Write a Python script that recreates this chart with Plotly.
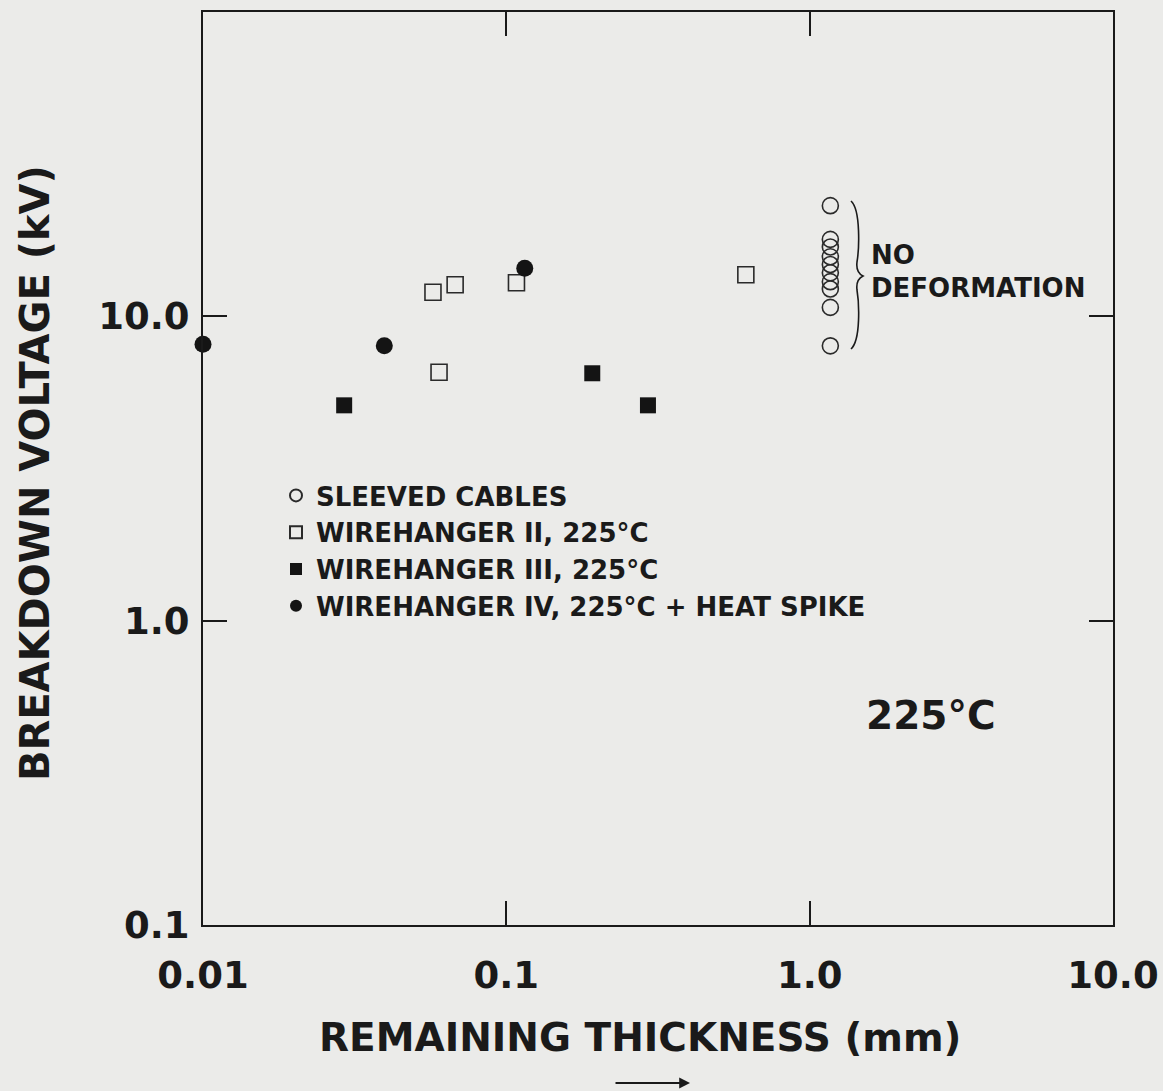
import plotly.graph_objects as go

# ---- data ----
sleeved_x = [1.17] * 10
sleeved_y = [23.1, 17.9, 16.9, 15.7, 14.8, 13.9, 13.0, 12.3, 10.7, 8.0]

wh2_x = [0.0573, 0.0678, 0.108, 0.616, 0.060]
wh2_y = [12.0, 12.7, 12.9, 13.7, 6.55]

wh3_x = [0.0292, 0.192, 0.293]
wh3_y = [5.1, 6.5, 5.1]

wh4_x = [0.0100, 0.0396, 0.115]
wh4_y = [8.1, 8.0, 14.4]

x_tickvals = [0.01, 0.1, 1.0, 10.0]
x_ticktext = ["0.01", "0.1", "1.0", "10.0"]
y_tickvals = [0.1, 1.0, 10.0]
y_ticktext = ["0.1", "1.0", "10.0"]

series_names = [
    "SLEEVED CABLES",
    "WIREHANGER II, 225°C",
    "WIREHANGER III, 225°C",
    "WIREHANGER IV, 225°C + HEAT SPIKE",
]

FONT = "DejaVu Sans"
INK = "#1a1a1a"
BG = "#ebebe9"

W, H = 1163, 1091
ML, MR, MT, MB = 203, 50, 12, 166
PW, PH = W - ML - MR, H - MT - MB


def pp(x, y):
    """pixel -> paper coordinates (for decorations only)"""
    return (x - ML) / PW, (H - MB - y) / PH


fig = go.Figure()

fig.add_trace(go.Scatter(
    x=sleeved_x, y=sleeved_y, mode="markers", name=series_names[0],
    marker=dict(symbol="circle-open", size=16, color="#2a2a2a", line=dict(width=1.6)),
    cliponaxis=False))
fig.add_trace(go.Scatter(
    x=wh2_x, y=wh2_y, mode="markers", name=series_names[1],
    marker=dict(symbol="square-open", size=16, color="#2a2a2a", line=dict(width=1.6)),
    cliponaxis=False))
fig.add_trace(go.Scatter(
    x=wh3_x, y=wh3_y, mode="markers", name=series_names[2],
    marker=dict(symbol="square", size=16, color="#141414"),
    cliponaxis=False))
fig.add_trace(go.Scatter(
    x=wh4_x, y=wh4_y, mode="markers", name=series_names[3],
    marker=dict(symbol="circle", size=17, color="#141414"),
    cliponaxis=False))

axis_common = dict(
    type="log", showgrid=False, zeroline=False, showline=True, linewidth=2.2,
    linecolor=INK, mirror="ticks", ticks="inside", ticklen=24, tickwidth=1.5,
    tickcolor=INK, tickfont=dict(family=FONT, size=37, color=INK, weight="bold"),
    automargin=False,
)

fig.update_xaxes(range=[-2, 1], tickvals=x_tickvals, ticktext=x_ticktext,
                 ticklabelstandoff=16, **axis_common)
fig.update_yaxes(range=[-1, 2], tickvals=y_tickvals, ticktext=y_ticktext,
                 ticklabelstandoff=4, **axis_common)

annotations = []
# axis titles
tx, ty = pp(640, 1037)
annotations.append(dict(x=tx, y=ty, xref="paper", yref="paper", text="REMAINING THICKNESS (mm)",
                        showarrow=False, font=dict(family=FONT, size=39, color=INK, weight="bold"),
                        xanchor="center", yanchor="middle"))
tx, ty = pp(35, 473)
annotations.append(dict(x=tx, y=ty, xref="paper", yref="paper", text="BREAKDOWN VOLTAGE (kV)",
                        showarrow=False, textangle=-90,
                        font=dict(family=FONT, size=40, color=INK, weight="bold"),
                        xanchor="center", yanchor="middle"))
# arrow under x title
hx, hy = pp(690, 1083)
annotations.append(dict(x=hx, y=hy, xref="paper", yref="paper", text="", showarrow=True,
                        ax=-76, ay=0, arrowhead=2, arrowsize=1.2, arrowwidth=1.8, arrowcolor=INK))
# NO DEFORMATION
tx, ty = pp(869, 255)
annotations.append(dict(x=tx, y=ty, xref="paper", yref="paper", text="NO", showarrow=False,
                        xanchor="left", yanchor="middle",
                        font=dict(family=FONT, size=26, color=INK, weight="bold")))
tx, ty = pp(869, 288)
annotations.append(dict(x=tx, y=ty, xref="paper", yref="paper", text="DEFORMATION", showarrow=False,
                        xanchor="left", yanchor="middle",
                        font=dict(family=FONT, size=26, color=INK, weight="bold")))
# 225°C
tx, ty = pp(931, 715)
annotations.append(dict(x=tx, y=ty, xref="paper", yref="paper", text="225°C", showarrow=False,
                        xanchor="center", yanchor="middle",
                        font=dict(family=FONT, size=39, color=INK, weight="bold")))

# brace
pts = [(851, 201), (861, 210), (859, 250), (857, 262), (856, 270), (859, 274), (863, 276),
       (859, 278), (856, 282), (857, 290), (859, 302), (861, 340), (851, 349)]
pp_pts = [pp(*p) for p in pts]
path = "M {:.5f},{:.5f}".format(*pp_pts[0])
for i in range(1, len(pp_pts), 3):
    a, b, c = pp_pts[i], pp_pts[i + 1], pp_pts[i + 2]
    path += " C {:.5f},{:.5f} {:.5f},{:.5f} {:.5f},{:.5f}".format(*a, *b, *c)

lx, ly = pp(276, 472)

fig.update_layout(
    width=W, height=H,
    margin=dict(l=ML, r=MR, t=MT, b=MB, autoexpand=False),
    paper_bgcolor=BG, plot_bgcolor=BG,
    annotations=annotations,
    shapes=[dict(type="path", path=path, xref="paper", yref="paper",
                 line=dict(color=INK, width=1.6))],
    legend=dict(x=lx, y=ly, xanchor="left", yanchor="top", bgcolor="rgba(0,0,0,0)",
                font=dict(family=FONT, size=26, color=INK, weight="bold"),
                itemsizing="constant", tracegroupgap=0),
    showlegend=True,
)

fig.write_html("out.html")
